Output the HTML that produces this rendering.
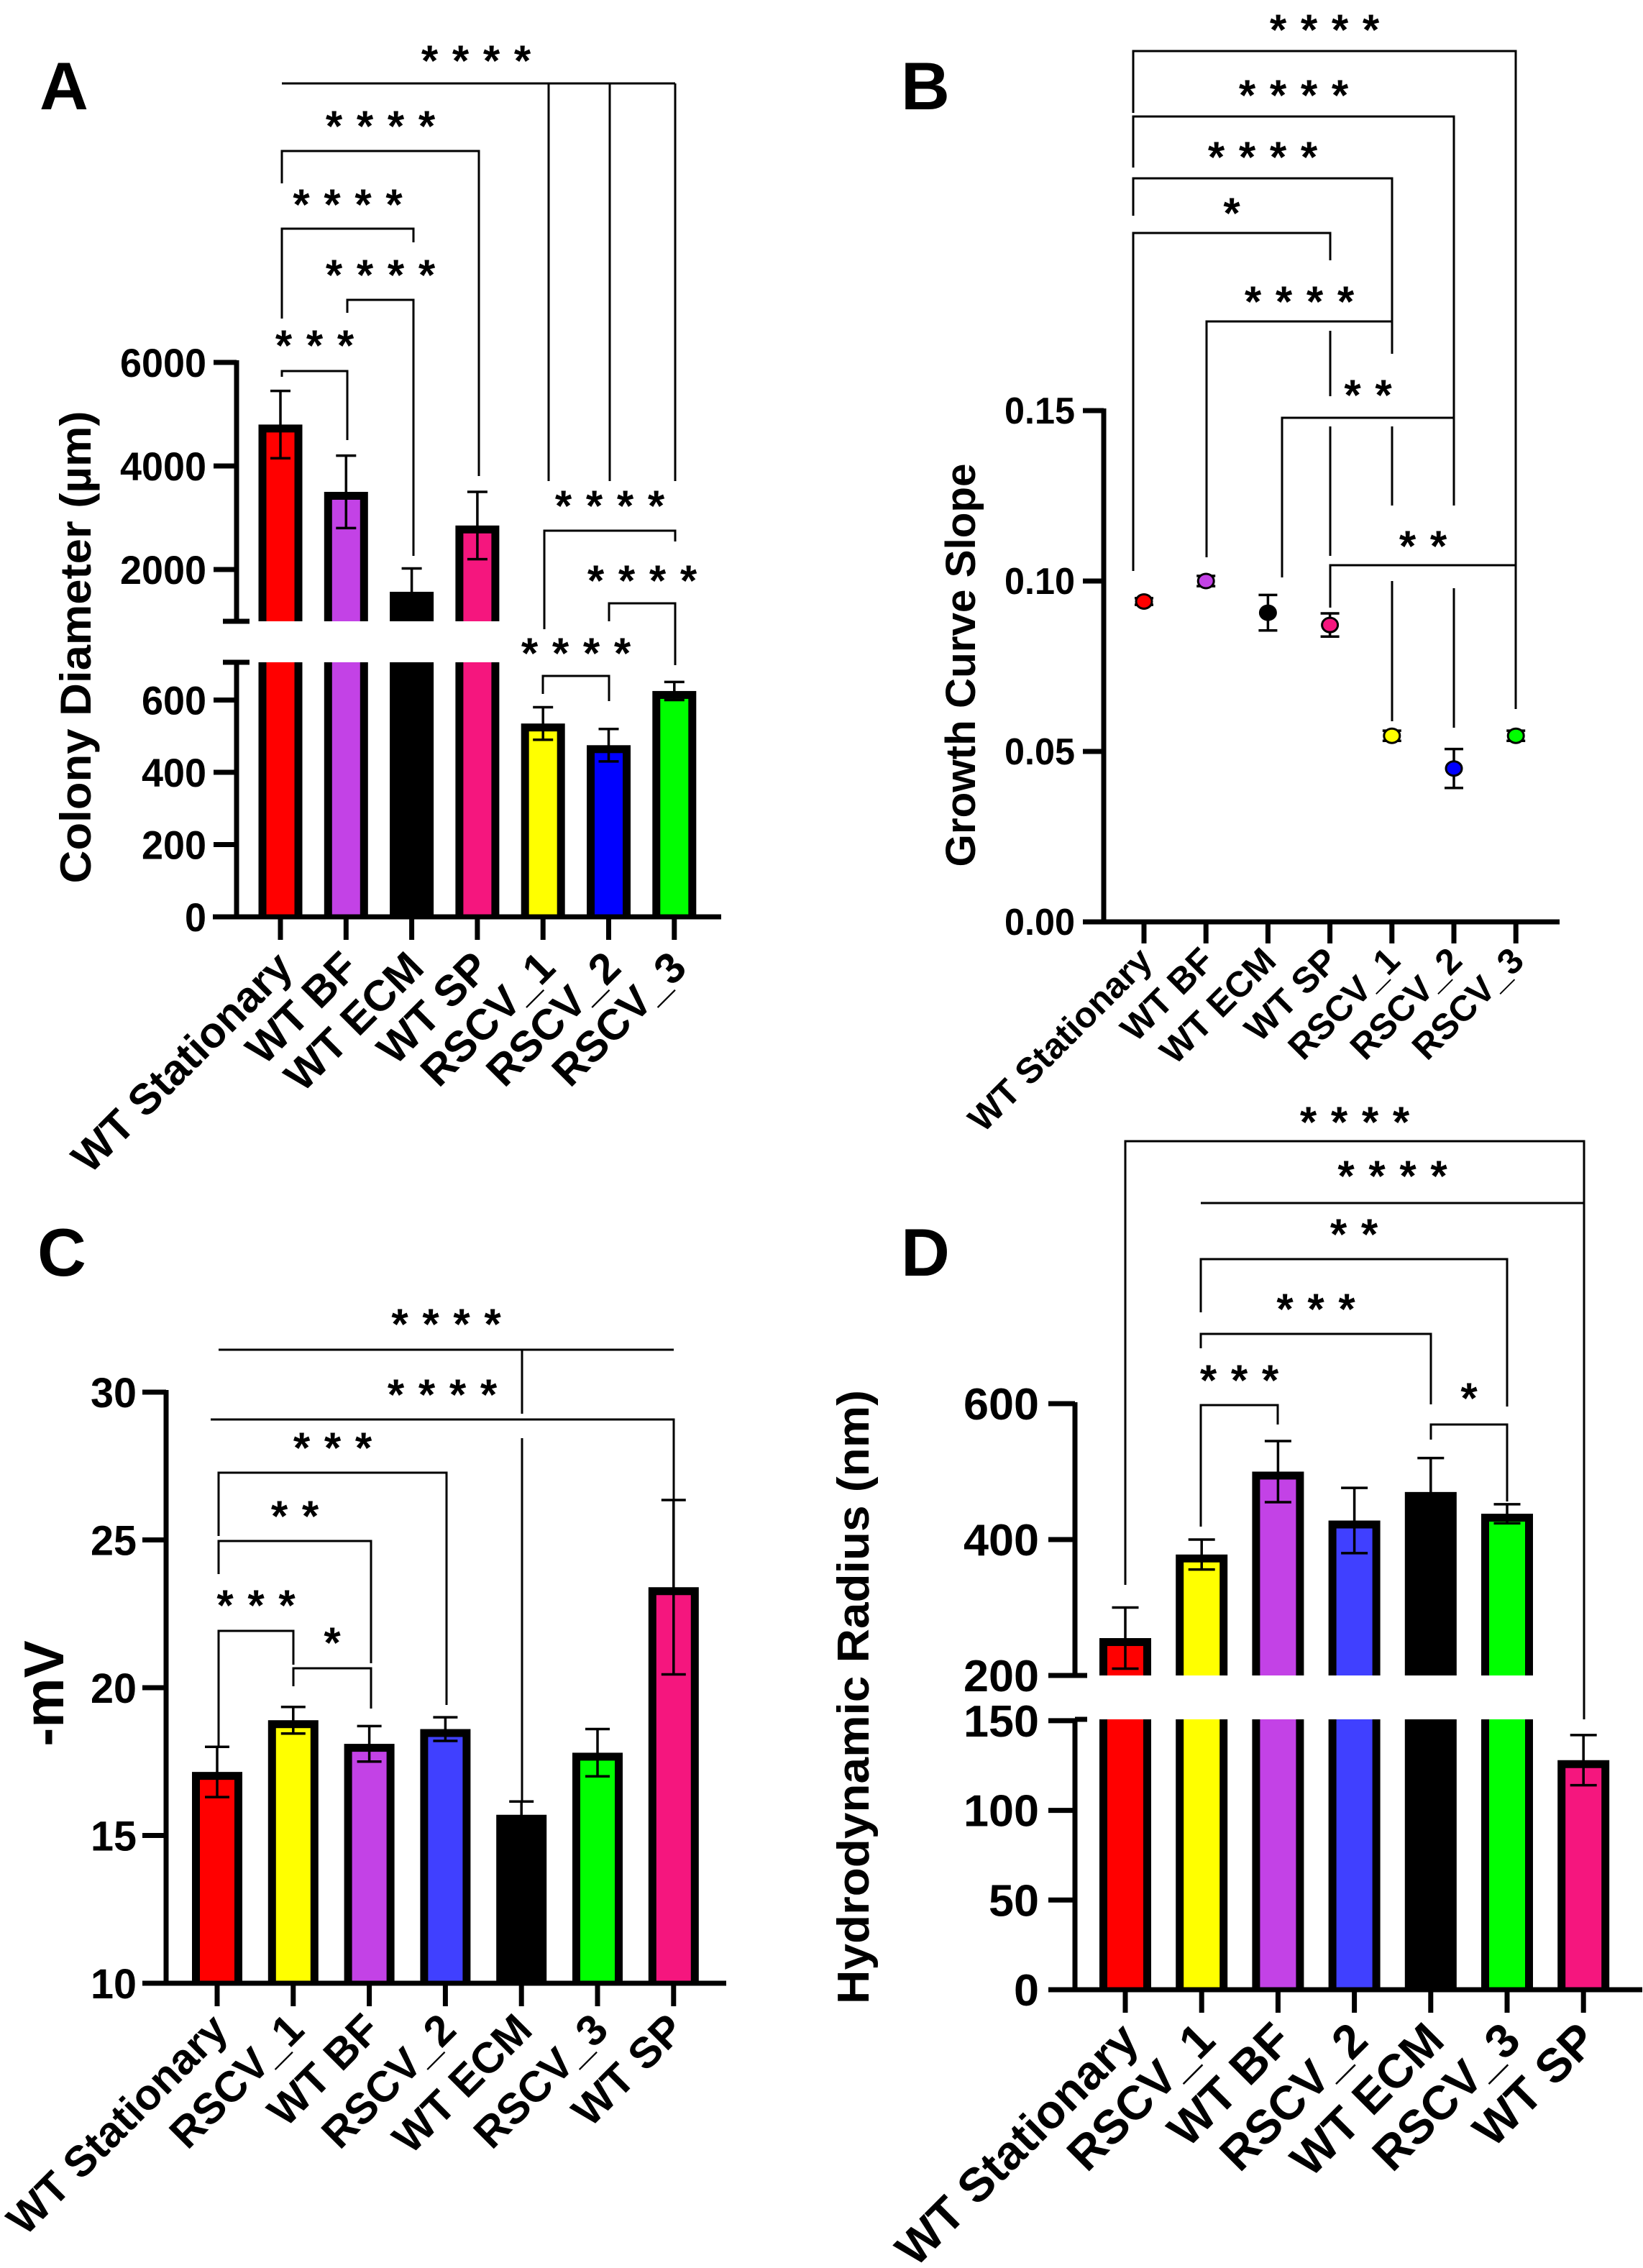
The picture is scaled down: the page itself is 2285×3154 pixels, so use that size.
<!DOCTYPE html>
<html><head><meta charset="utf-8">
<style>
html,body{margin:0;padding:0;background:#fff;}
svg{display:block;}
text{font-family:"Liberation Sans",Arial,sans-serif;}
</style></head>
<body>
<svg id="fig" xmlns="http://www.w3.org/2000/svg" width="2285" height="3154" viewBox="0 0 2285 3154"></svg>
<script>
// ---------- Panel A data ----------
const catsA = ['WT Stationary','WT BF','WT ECM','WT SP','RSCV_1','RSCV_2','RSCV_3'];
const valsA = [4800,3500,1570,2850,535,475,625];
const errA  = [650,700,450,650,45,45,25];
const ticksUpperA = [2000,4000,6000];
const ticksLowerA = [0,200,400,600];
// ---------- Panel B data ----------
const catsB = ['WT Stationary','WT BF','WT ECM','WT SP','RSCV_1','RSCV_2','RSCV_3'];
const valsB = [0.094,0.100,0.0907,0.0871,0.0546,0.045,0.0546];
const errB  = [0.001,0.0015,0.0052,0.0034,0.0015,0.0057,0.0015];
const ticksB = [0,0.05,0.10,0.15];
// ---------- Panel C data ----------
const catsC = ['WT Stationary','RSCV_1','WT BF','RSCV_2','WT ECM','RSCV_3','WT SP'];
const valsC = [17.15,18.9,18.1,18.6,15.7,17.8,23.4];
const errC  = [0.85,0.45,0.6,0.4,0.45,0.8,2.95];
const ticksC = [10,15,20,25,30];
// ---------- Panel D data ----------
const catsD = ['WT Stationary','RSCV_1','WT BF','RSCV_2','WT ECM','RSCV_3','WT SP'];
const valsD = [255,378,500,428,470,438,128];
const errD  = [45,22,45,48,50,14,14];
const ticksUpperD = [200,400,600];
const ticksLowerD = [0,50,100,150];

const colA = ['#ff0000','#c342e6','#000000','#f5167e','#ffff00','#0000ff','#00ff00'];
const colB = ['#ff0000','#c342e6','#000000','#f5167e','#ffff00','#0000ff','#00ff00'];
const colC = ['#ff0000','#ffff00','#c342e6','#4040ff','#000000','#00ff00','#f5167e'];
const colD = ['#ff0000','#ffff00','#c342e6','#4040ff','#000000','#00ff00','#f5167e'];

const NS='http://www.w3.org/2000/svg';
const svg=document.getElementById('fig');
function mk(tag,attrs,parent){const e=document.createElementNS(NS,tag);for(const k in attrs)e.setAttribute(k,attrs[k]);(parent||svg).appendChild(e);return e;}
function group(name){const g=document.createElementNS(NS,'g');


svg.appendChild(g);return g;}
function ln(g,x1,y1,x2,y2,w,name){const e=mk('line',{x1,y1,x2,y2,stroke:'#000','stroke-width':w,'stroke-linecap':'butt'},g);


return e;}
function tx(g,x,y,s,size,anchor,name,extra){const e=mk('text',Object.assign({x,y,'font-size':size,'font-weight':'bold','text-anchor':anchor,fill:'#000'},extra||{}),g);e.textContent=s;


return e;}
function tick(g,x,y,s,size,w){return tx(g,x,y,s,size,'end','y-tick-label',{textLength:w,lengthAdjust:'spacingAndGlyphs'});}
function stars(g,cx,cy,n){const sp=43;for(let k=0;k<n;k++){tx(g,cx+(k-(n-1)/2)*sp,cy+34,'*',60,'middle','significance-star');}}
function bracket(g,x1,x2,y,d1,d2,label,ty){
  ln(g,x1,y,x2,y,3,'bracket-line');
  if(d1!==null) ln(g,x1,y-1.5,x1,d1,3,'bracket-drop');
  if(d2!==null) ln(g,x2,y-1.5,x2,d2,3,'bracket-drop');
  stars(g,(x1+x2)/2,ty,label);
}
function xlabel(g,x,y,s,size){const e=mk('text',{x,y,'font-size':size,'font-weight':'bold','text-anchor':'end',transform:`rotate(-45 ${x} ${y})`,fill:'#000'},g);e.textContent=s;

}
function bar(g,cx,w,b,yTop,yBase,color,broken,name){
  const gg=mk('g',{},g);
  
  
  if(broken && yTop<broken.up){
    mk('rect',{x:cx-w/2,y:yTop,width:w,height:broken.up-yTop,fill:'#000'},gg);
    mk('rect',{x:cx-w/2+b,y:yTop+b,width:w-2*b,height:broken.up-yTop-b,fill:color},gg);
    mk('rect',{x:cx-w/2,y:broken.low,width:w,height:yBase-broken.low,fill:'#000'},gg);
    mk('rect',{x:cx-w/2+b,y:broken.low,width:w-2*b,height:yBase-broken.low,fill:color},gg);
  } else {
    mk('rect',{x:cx-w/2,y:yTop,width:w,height:yBase-yTop,fill:'#000'},gg);
    mk('rect',{x:cx-w/2+b,y:yTop+b,width:w-2*b,height:yBase-yTop-b,fill:color},gg);
  }
}
function errbar(g,cx,y1,y2,cap){
  ln(g,cx,y1,cx,y2,3.5,'error-bar');
  ln(g,cx-cap/2,y1,cx+cap/2,y1,3.5,'error-cap');
  ln(g,cx-cap/2,y2,cx+cap/2,y2,3.5,'error-cap');
}
function panelLetter(s,x,y){const g=group('panel-label-'+s.toLowerCase());tx(g,x,y,s,94,'start','panel-letter');}

// =============== PANEL A ===============
(function(){
  const g=group('panel-a-chart');
  const axX=329, base=1275, up=864, low=921;
  const yA=v=> v<=700 ? base - v*0.5025 : up - (v-1000)*0.072;
  const xA=i=>390+i*91.3;
  panelLetter('A',55,152);
  valsA.forEach((v,i)=>{
    bar(g,xA(i),61,11,yA(v),base,colA[i],v>1000?{up,low}:null,'bar-'+catsA[i].toLowerCase().replace(/[^a-z0-9]+/g,'-'));
    errbar(g,xA(i),yA(v+errA[i]),yA(v-errA[i]),28);
  });
  ln(g,axX,501,axX,up,7,'y-axis-upper');
  ln(g,axX,low,axX,base+3,7,'y-axis-lower');
  ln(g,310,up,347,up,7,'axis-break-cap');
  ln(g,310,low,347,low,7,'axis-break-cap');
  ln(g,296,base,1003,base,7,'x-axis');
  ticksUpperA.forEach(t=>{ln(g,297,yA(t),axX,yA(t),7,'y-tick');tick(g,287,yA(t)+20,String(t),56,String(t).length*30);});
  ticksLowerA.forEach(t=>{ln(g,297,yA(t),axX,yA(t),7,'y-tick');tick(g,287,yA(t)+20,String(t),56,String(t).length*30);});
  catsA.forEach((c,i)=>{ln(g,xA(i),base,xA(i),base+32,7,'x-tick');xlabel(g,xA(i)+20,base+74,c,60);});
  tx(g,0,0,'Colony Diameter (µm)',60,'middle','y-axis-title',{transform:'translate(126 900) rotate(-90)',textLength:657,lengthAdjust:'spacingAndGlyphs'});
  const sg=group('panel-a-significance');
  ln(sg,392,116,939,116,3,'bracket-line');
  ln(sg,763,116,763,669,3,'bracket-drop');
  ln(sg,848,116,848,669,3,'bracket-drop');
  ln(sg,939,116,939,669,3,'bracket-drop');
  stars(sg,662,71,4);
  bracket(sg,392,666,210,255,662,4,162);
  bracket(sg,392,575,318,443,337,4,271);
  bracket(sg,483,575,417,435,773,4,369);
  bracket(sg,392,483,516,524,612,3,467);
  bracket(sg,757,939,738,875,753,4,690);
  bracket(sg,847,939,839,864,925,4,794);
  bracket(sg,755,847,940,965,975,4,895);
})();

// =============== PANEL B ===============
(function(){
  const g=group('panel-b-chart');
  const axX=1535, base=1282;
  const yB=v=>base - v*4740;
  const xB=i=>1591+i*86.2;
  panelLetter('B',1253,152);
  const sg=group('panel-b-significance');
  bracket(sg,1576,2108,71,157,986,4,28);
  bracket(sg,1576,2022,162,233,703,4,119);
  bracket(sg,1576,1936,248,300,492,4,205);
  bracket(sg,1576,1850,324,794,362,1,283);
  bracket(sg,1678,1936,447,775,492,4,406);
  ln(sg,1850,460,1850,551,3,'bracket-drop');
  bracket(sg,1783,2022,581,803,703,2,536);
  ln(sg,1850,593,1850,773,3,'bracket-drop');
  ln(sg,1936,593,1936,703,3,'bracket-drop');
  bracket(sg,1850,2108,786,845,null,2,746);
  ln(sg,1936,808,1936,1003,3,'bracket-drop');
  ln(sg,2022,818,2022,1012,3,'bracket-drop');
  ln(g,axX,568,axX,base+3,7,'y-axis');
  ln(g,1506,base,2169,base,7,'x-axis');
  ticksB.forEach(t=>{ln(g,1506,yB(t),axX,yB(t),7,'y-tick');tick(g,1495,yB(t)+18,t.toFixed(2),52,98);});
  catsB.forEach((c,i)=>{ln(g,xB(i),base,xB(i),base+30,7,'x-tick');xlabel(g,xB(i)+14,base+57,c,50);});
  tx(g,0,0,'Growth Curve Slope',58,'middle','y-axis-title',{transform:'translate(1356 925) rotate(-90)',textLength:561,lengthAdjust:'spacingAndGlyphs'});
  valsB.forEach((v,i)=>{
    errbar(g,xB(i),yB(v+errB[i]),yB(v-errB[i]),26);
    const c=mk('ellipse',{cx:xB(i),cy:yB(v),rx:11,ry:10,fill:colB[i],stroke:'#000','stroke-width':3},g);
    
    
  });
})();

// =============== PANEL C ===============
(function(){
  const g=group('panel-c-chart');
  const axX=231, base=2758;
  const yC=v=>base-(v-10)*41.1;
  const xC=i=>302+i*105.8;
  panelLetter('C',52,1774);
  valsC.forEach((v,i)=>{
    bar(g,xC(i),70,11,yC(v),base,colC[i],null,'bar-'+catsC[i].toLowerCase().replace(/[^a-z0-9]+/g,'-'));
    errbar(g,xC(i),yC(v+errC[i]),yC(v-errC[i]),34);
  });
  ln(g,axX,1933,axX,base+3,7,'y-axis');
  ln(g,198,base,1010,base,7,'x-axis');
  ticksC.forEach(t=>{ln(g,198,yC(t),axX,yC(t),7,'y-tick');tick(g,190,yC(t)+21,String(t),58,64);});
  catsC.forEach((c,i)=>{ln(g,xC(i),base,xC(i),base+32,7,'x-tick');xlabel(g,xC(i)+18,base+68,c,60);});
  tx(g,0,0,'-mV',78,'middle','y-axis-title',{transform:'translate(88 2355) rotate(-90)'});
  const sg=group('panel-c-significance');
  bracket(sg,304,937,1877,null,null,4,1828);
  ln(sg,726,1877,726,1966,3,'bracket-drop');
  ln(sg,726,2000,726,2505,3,'bracket-drop');
  bracket(sg,293,937,1974,null,2088,4,1926);
  bracket(sg,304,621,2048,2136,2371,3,2000);
  bracket(sg,304,516,2143,2189,2313,2,2095);
  bracket(sg,304,408,2268,2429,2315,3,2219);
  bracket(sg,408,516,2320,2345,2376,1,2271);
})();

// =============== PANEL D ===============
(function(){
  const g=group('panel-d-chart');
  const axX=1495, base=2767, up=2330, low=2391;
  const yD=v=> v<=160 ? base - v*2.494 : up - (v-200)*0.945;
  const xD=i=>1565+i*106.2;
  panelLetter('D',1253,1774);
  valsD.forEach((v,i)=>{
    bar(g,xD(i),72,11,yD(v),base,colD[i],v>200?{up,low}:null,'bar-'+catsD[i].toLowerCase().replace(/[^a-z0-9]+/g,'-'));
    errbar(g,xD(i),yD(v+errD[i]),yD(v-errD[i]),37);
  });
  ln(g,axX,1950,axX,up,7,'y-axis-upper');
  ln(g,axX,low,axX,base+3,7,'y-axis-lower');
  ln(g,axX,up,1512,up,7,'axis-break-cap');
  ln(g,axX,low,1512,low,7,'axis-break-cap');
  ln(g,1458,base,2284,base,7,'x-axis');
  ticksUpperD.forEach(t=>{ln(g,1458,yD(t),axX,yD(t),7,'y-tick');tick(g,1445,yD(t)+22,String(t),62,String(t).length*35);});
  ticksLowerD.forEach(t=>{ln(g,1458,yD(t),axX,yD(t),7,'y-tick');tick(g,1445,yD(t)+22,String(t),62,String(t).length*35);});
  catsD.forEach((c,i)=>{ln(g,xD(i),base,xD(i),base+32,7,'x-tick');xlabel(g,xD(i)+22,base+74,c,66);});
  tx(g,0,0,'Hydrodynamic Radius (nm)',62,'middle','y-axis-title',{transform:'translate(1208 2360) rotate(-90)',textLength:854,lengthAdjust:'spacingAndGlyphs'});
  const sg=group('panel-d-significance');
  bracket(sg,1565,2203,1587,2204,2391,4,1547);
  bracket(sg,1670,2203,1673,null,null,4,1622);
  bracket(sg,1670,2096,1751,1825,1956,2,1703);
  bracket(sg,1670,1990,1855,1875,1953,3,1807);
  bracket(sg,1670,1777,1954,2123,1981,3,1906);
  bracket(sg,1990,2096,1981,2002,2088,1,1931);
})();
</script>
</body></html>
